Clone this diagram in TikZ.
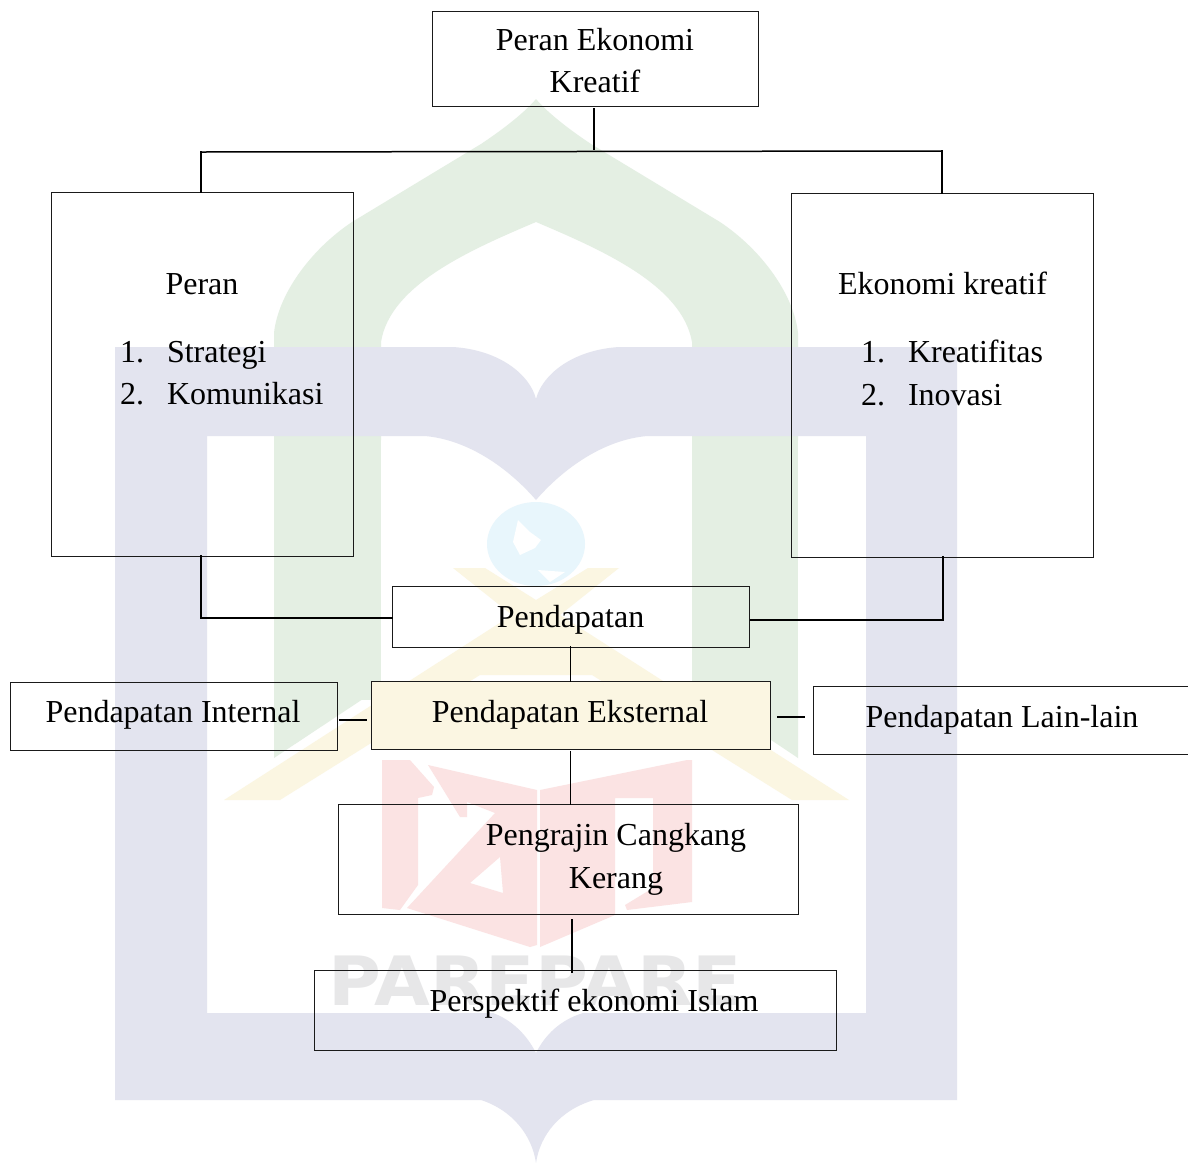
\documentclass[tikz,border=0pt]{standalone}
\usepackage{fontspec}
\setmainfont{Liberation Serif}
\newfontfamily\wmfont{DejaVu Sans}
\definecolor{wmgreen}{HTML}{E4EFE3}
\definecolor{wmlav}{HTML}{E3E4EF}
\definecolor{wmyellow}{HTML}{FBF6E2}
\definecolor{wmred}{HTML}{FBE3E3}
\definecolor{wmblue}{HTML}{E8F6FC}
\definecolor{wmgrey}{HTML}{E7E7E8}
\definecolor{ink}{HTML}{1A1A1A}
\begin{document}
\begin{tikzpicture}[x=1pt,y=-1pt,
  boxst/.style={draw=ink,line width=0.95pt,rectangle,inner sep=0pt,outer sep=0pt},
  txt/.style={anchor=base,inner sep=0pt,outer sep=0pt,font=\fontsize{32}{43}\selectfont,text=black},
  txtw/.style={anchor=base west,inner sep=0pt,outer sep=0pt,font=\fontsize{32}{43}\selectfont,text=black},
  conn/.style={draw=black,line width=1.5pt,line cap=rect,line join=miter}]
\useasboundingbox (0,0) rectangle (1188,1163);
\fill[white] (0,0) rectangle (1188,1163);
% ---- watermark ----
% green arch
\fill[wmgreen] (274,440) -- (274,333) .. controls (278,295) and (310,250) .. (352,222)
  -- (481,144) .. controls (505,128) and (525,112) .. (536,99)
  .. controls (547,112) and (567,128) .. (591,144)
  -- (720,222) .. controls (762,250) and (794,295) .. (798,333) -- (798,440) -- (692,440) -- (692,342)
  .. controls (682,285) and (602,250) .. (536,222)
  .. controls (470,250) and (390,285) .. (381,342) -- (381,440) -- cycle;
\fill[wmgreen] (274,430) rectangle (381,700);
\fill[wmgreen] (274,690) -- (381,690) -- (381,687) -- (274,758) -- cycle;
\fill[wmgreen] (692,430) rectangle (798,700);
\fill[wmgreen] (692,690) -- (798,690) -- (798,758) -- (692,687) -- cycle;
% yellow roof
\fill[wmyellow] (453,568) -- (485,568) -- (536,600) -- (588,568) -- (619,568) -- (560,615)
  -- (849,800) -- (792,800) -- (592,675) -- (480,675) -- (280,800) -- (224,800) -- (512,615) -- cycle;
% lavender book
\fill[wmlav,even odd rule] (115,347) -- (453,347) .. controls (500,350) and (530,375) .. (536,399)
  .. controls (542,375) and (572,350) .. (619,347) -- (957,347) -- (957,1100) -- (594,1100)
  .. controls (560,1110) and (540,1135) .. (536,1163)
  .. controls (532,1135) and (512,1110) .. (481,1100) -- (115,1100) -- cycle
  (207,436) -- (425,436) .. controls (470,440) and (510,470) .. (536,500)
  .. controls (562,470) and (602,440) .. (647,436) -- (866,436) -- (866,1013) -- (583,1013)
  .. controls (560,1020) and (545,1035) .. (536,1053)
  .. controls (527,1035) and (512,1020) .. (493,1013) -- (207,1013) -- cycle;
% globe
\fill[wmblue] (536,544) ellipse [x radius=49,y radius=42];
\fill[white] (518,520) -- (530,532) -- (541,540) -- (535,548) -- (520,555) -- (513,542) -- cycle;
\fill[white] (538,570) -- (565,572) -- (550,582) -- cycle;
% red logo
\fill[wmred] (382,760) -- (410,760) -- (434,787) -- (432,795) -- (418,798) -- (418,885) -- (400,910) -- (382,908) -- cycle;
\fill[wmred,even odd rule] (428,765) -- (537,790) -- (537,945) -- (530,947) -- (407,908) -- (495,813) -- (467,802) -- (467,817) -- (460,817) -- cycle
  (500,857) -- (470,883) -- (503,893) -- cycle;
\fill[wmred] (540,790) -- (687,760) -- (692,760) -- (692,902) -- (627,910) -- (625,905) -- (653,888) -- (653,798) -- (615,798) -- (615,915) -- (540,947) -- cycle;
% PAREPARE
\node[inner sep=0pt,anchor=base,text=wmgrey,font=\wmfont\bfseries\fontsize{68}{68}\selectfont] (wm) at (535,1005) {\scalebox{1.06}[1]{PAREPARE}};
% ---- boxes ----
\node[boxst,minimum width=326pt,minimum height=95pt] (topb) at (595,58.5) {};
\node[boxst,minimum width=302pt,minimum height=364pt] (peran) at (202,374) {};
\node[boxst,minimum width=302pt,minimum height=364pt] (ekon) at (942,375) {};
\node[boxst,minimum width=357pt,minimum height=61pt] (pend) at (570.5,616.5) {};
\node[boxst,minimum width=327pt,minimum height=68pt] (intern) at (173.5,716) {};
\node[boxst,fill=wmyellow,minimum width=399pt,minimum height=68pt] (ekst) at (570.5,715) {};
\node[boxst,minimum width=385pt,minimum height=68pt] (lain) at (1005.5,720) {};
\node[boxst,minimum width=460pt,minimum height=110pt] (peng) at (568,859) {};
\node[boxst,minimum width=522pt,minimum height=80pt] (persp) at (575,1010) {};
% ---- texts ----
\node[txt] (t1) at (595,50) {Peran Ekonomi};
\node[txt] (t2) at (595,92) {Kreatif};
\node[txt] (t3) at (202,294) {Peran};
\node[txtw] (t4) at (120,362) {1.};
\node[txtw] (t5) at (167,362) {Strategi};
\node[txtw] (t6) at (120,404) {2.};
\node[txtw] (t7) at (167,404) {Komunikasi};
\node[txt] (t8) at (942.5,294) {Ekonomi kreatif};
\node[txtw] (t9) at (861,362) {1.};
\node[txtw] (t10) at (908,362) {Kreatifitas};
\node[txtw] (t11) at (861,405) {2.};
\node[txtw] (t12) at (908,405) {Inovasi};
\node[txt] (t13) at (570.5,627) {Pendapatan};
\node[txt] (t14) at (173,722) {Pendapatan Internal};
\node[txt] (t15) at (570,722) {Pendapatan Eksternal};
\node[txt] (t16) at (1002,727) {Pendapatan Lain-lain};
\node[txt] (t17) at (616,845) {Pengrajin Cangkang};
\node[txt] (t18) at (616,888) {Kerang};
\node[txt] (t19) at (594,1011) {Perspektif ekonomi Islam};
% ---- connectors ----
\coordinate (jc) at (594,149);
\coordinate (jl) at (201,152);
\coordinate (jr) at (942,151);
\draw[conn] ([xshift=-1pt,yshift=-3pt]topb.south) -- (jc);
\draw[conn] (jl) -- (jr);
\draw[conn] (jl) -- ([xshift=-1pt]peran.north);
\draw[conn] (jr) -- (ekon.north);
\draw[conn] ([xshift=-1pt]peran.south) -- (201,618) -- (pend.west |- 0,618);
\draw[conn] ([xshift=1pt]ekon.south) -- (943,620) -- ([xshift=2pt]pend.east |- 0,620);
\draw[conn] (pend.south) -- (ekst.north);
\draw[conn] ([xshift=3pt,yshift=-4pt]intern.east) -- ([xshift=-5pt,yshift=-5pt]ekst.west);
\draw[conn] ([xshift=8pt,yshift=-2pt]ekst.east) -- ([xshift=-9pt,yshift=3pt]lain.west);
\draw[conn] ([yshift=-3pt]ekst.south) -- (peng.north -| ekst.south);
\draw[conn] ([xshift=4pt,yshift=-6pt]peng.south) -- ([xshift=-3pt,yshift=-2pt]persp.north);
\end{tikzpicture}
\end{document}
